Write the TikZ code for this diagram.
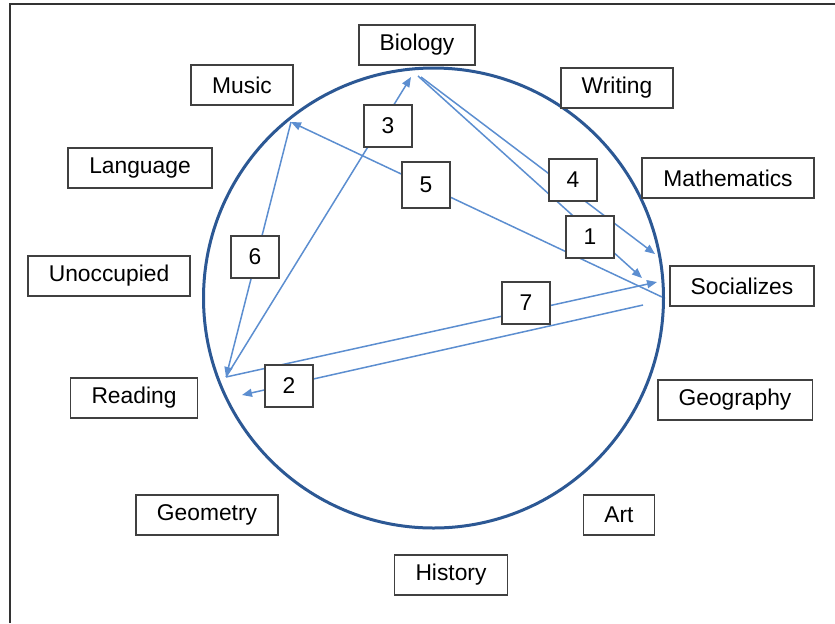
\documentclass[tikz,border=0pt]{standalone}
\usepackage{fontspec}
\setmainfont{Liberation Sans}
\usetikzlibrary{arrows.meta}
\definecolor{ringblue}{RGB}{44,88,148}
\definecolor{flowblue}{RGB}{92,142,208}
\tikzset{
  subject/.style={draw=black!75, line width=0.9pt, fill=white, inner xsep=10.5pt,
    minimum height=20pt, font=\fontsize{11.4}{13}\selectfont},
  stepnum/.style={draw=black!75, line width=0.9pt, fill=white, minimum width=24pt,
    minimum height=21pt, inner sep=0pt, font=\fontsize{11.4}{13}\selectfont},
  flow/.style={flowblue, line width=0.75pt, -{Triangle[length=5pt,width=4pt]}}
}
\begin{document}
\begin{tikzpicture}[x=0.5pt,y=-0.5pt]
  \useasboundingbox (0,0) rectangle (835,623);
  \draw[black!80,line width=1pt] (10,623) -- (10,4) -- (835,4);

  \draw[ringblue,line width=1.5pt] (433.5,298) circle [radius=115pt];

  % points on the ring
  \coordinate (bioIn) at (411,77);
  \coordinate (bioA) at (418,76);
  \coordinate (bioB) at (421,77);
  \coordinate (musPt) at (291,122);
  \coordinate (soc1) at (642,278);
  \coordinate (soc4) at (655,254);
  \coordinate (soc7) at (657,282);
  \coordinate (soc5) at (662,297);
  \coordinate (soc2) at (643,305);
  \coordinate (rdPt) at (226,377);
  \coordinate (rd2) at (242,395);

  \draw[flow] (bioA) -- (soc1);
  \draw[flow] (soc2) -- (rd2);
  \draw[flow] (rdPt) -- (bioIn);
  \draw[flow] (bioB) -- (soc4);
  \draw[flow] (soc5) -- (musPt);
  \draw[flow] (musPt) -- (rdPt);
  \draw[flow] (rdPt) -- (soc7);

  % step numbers
  \node[stepnum] (s1) at (590,237) {1};
  \node[stepnum] (s2) at (289,386) {2};
  \node[stepnum] (s3) at (388,126) {3};
  \node[stepnum] (s4) at (573,180) {4};
  \node[stepnum, minimum height=23pt] (s5) at (426,185) {5};
  \node[stepnum] (s6) at (255,257) {6};
  \node[stepnum] (s7) at (526,303) {7};

  % subjects
  \node[subject] (biology) at (417,45) {Biology};
  \node[subject] (music) at (242,85) {Music};
  \node[subject] (writing) at (617,88) {Writing};
  \node[subject] (language) at (140,168) {Language};
  \node[subject] (maths) at (728,178) {Mathematics};
  \node[subject] (unocc) at (109,276) {Unoccupied};
  \node[subject] (social) at (742,286) {Socializes};
  \node[subject] (reading) at (134,398) {Reading};
  \node[subject] (geog) at (735,400) {Geography};
  \node[subject] (geom) at (207,515) {Geometry};
  \node[subject] (art) at (619,515) {Art};
  \node[subject] (history) at (451,575) {History};
\end{tikzpicture}
\end{document}
